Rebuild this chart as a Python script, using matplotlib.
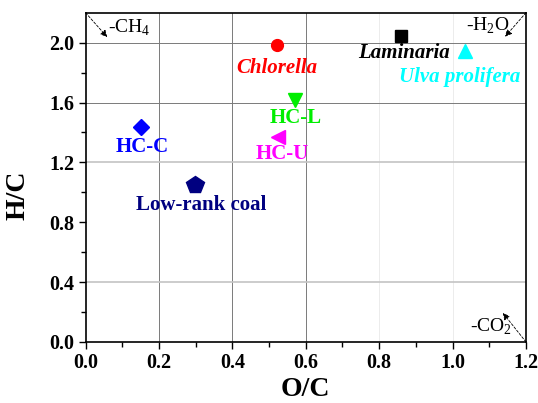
"""Van Krevelen diagram (H/C vs O/C) for the algae / hydrochar / coal samples."""

import matplotlib

matplotlib.use("Agg")
import matplotlib.pyplot as plt

plt.rcParams["font.family"] = ["Liberation Serif", "DejaVu Serif"]
plt.rcParams["mathtext.fontset"] = "custom"
plt.rcParams["mathtext.rm"] = "Liberation Serif"

# sample data
samples = ["Chlorella", "Laminaria", "Ulva prolifera", "HC-L", "HC-U", "HC-C", "Low-rank coal"]
oc = [0.521, 0.860, 1.033, 0.571, 0.523, 0.150, 0.299]
hc = [1.984, 2.047, 1.945, 1.615, 1.371, 1.433, 1.052]

# label anchor points (centre of text)
label_oc = [0.521, 0.868, 1.020, 0.573, 0.537, 0.153, 0.315]
label_hc = [1.832, 1.929, 1.768, 1.494, 1.256, 1.305, 0.915]

STYLE = {
    "Chlorella": dict(marker="o", ms=8.5, color="#ff0000", italic=True),
    "Laminaria": dict(marker="s", ms=8.5, color="#000000", italic=True),
    "Ulva prolifera": dict(marker="^", ms=10, color="#00ffff", italic=True),
    "HC-L": dict(marker="v", ms=10, color="#00ee00", italic=False),
    "HC-U": dict(marker="<", ms=10, color="#ff00ff", italic=False),
    "HC-C": dict(marker="D", ms=7.8, color="#0000ff", italic=False),
    "Low-rank coal": dict(marker="p", ms=13, color="#000080", italic=False),
}

fig = plt.figure(figsize=(5.38, 4.03), dpi=100)
ax = fig.add_axes([0.159, 0.1514, 0.8187, 0.8171])

for name, x, y, lx, ly in zip(samples, oc, hc, label_oc, label_hc):
    st = STYLE[name]
    ax.plot(x, y, st["marker"], ms=st["ms"], color=st["color"], mec=st["color"], zorder=4)
    ax.text(
        lx, ly, name,
        color=st["color"], fontsize=15, fontweight="bold",
        fontstyle="italic" if st["italic"] else "normal",
        ha="center", va="center", zorder=5,
    )

ax.set_xlim(0, 1.2)
ax.set_ylim(0, 2.2)
ax.set_xticks([0.0, 0.2, 0.4, 0.6, 0.8, 1.0, 1.2])
ax.set_yticks([0.0, 0.4, 0.8, 1.2, 1.6, 2.0])
ax.set_xticks([0.1, 0.3, 0.5, 0.7, 0.9, 1.1], minor=True)
ax.set_yticks([0.2, 0.6, 1.0, 1.4, 1.8], minor=True)
ax.xaxis.set_major_formatter(matplotlib.ticker.FormatStrFormatter("%.1f"))
ax.yaxis.set_major_formatter(matplotlib.ticker.FormatStrFormatter("%.1f"))

ax.tick_params(which="major", direction="out", length=5, width=1, labelsize=14.5, pad=3)
ax.tick_params(which="minor", direction="out", length=3.5, width=1)
for lab in ax.get_xticklabels() + ax.get_yticklabels():
    lab.set_fontweight("bold")

for sp in ax.spines.values():
    sp.set_linewidth(1.2)

# grid: looks uneven in the original (resampled), mimic it line by line
vgrid = {0.2: ("#7a7a7a", 0.7), 0.4: ("#7a7a7a", 0.7), 0.6: ("#7a7a7a", 0.7),
         0.8: ("#ececec", 0.7), 1.0: ("#ececec", 0.7)}
hgrid = {0.4: ("#c4c4c4", 1.2), 1.2: ("#c4c4c4", 1.2), 1.6: ("#7a7a7a", 0.7),
         2.0: ("#7a7a7a", 0.7)}
for xv, (c, w) in vgrid.items():
    ax.axvline(xv, color=c, lw=w, zorder=1)
for yv, (c, w) in hgrid.items():
    ax.axhline(yv, color=c, lw=w, zorder=1)

ax.set_xlabel("O/C", fontsize=20, fontweight="bold")
ax.set_ylabel("H/C", fontsize=20, fontweight="bold")
ax.xaxis.set_label_coords(0.5, -0.105)
ax.yaxis.set_label_coords(-0.125, 0.446)

# reaction pathway arrows
arrow = dict(arrowstyle="-|>", linestyle=(0, (3, 2)), lw=0.6, color="black",
             mutation_scale=10, shrinkA=0, shrinkB=0)
ax.annotate("", xy=(0.059, 2.037), xytext=(0.0, 2.2), arrowprops=arrow, zorder=3)
ax.annotate("", xy=(1.143, 2.040), xytext=(1.2, 2.2), arrowprops=arrow, zorder=3)
ax.annotate("", xy=(1.137, 0.194), xytext=(1.2, 0.0), arrowprops=arrow, zorder=3)
ax.text(0.062, 2.10, "-CH$_4$", fontsize=14, ha="left", va="center")
ax.text(1.156, 2.11, "-H$_2$O", fontsize=14, ha="right", va="center")
ax.text(1.162, 0.10, "-CO$_2$", fontsize=14, ha="right", va="center")

fig.savefig("out.png", dpi=100)
